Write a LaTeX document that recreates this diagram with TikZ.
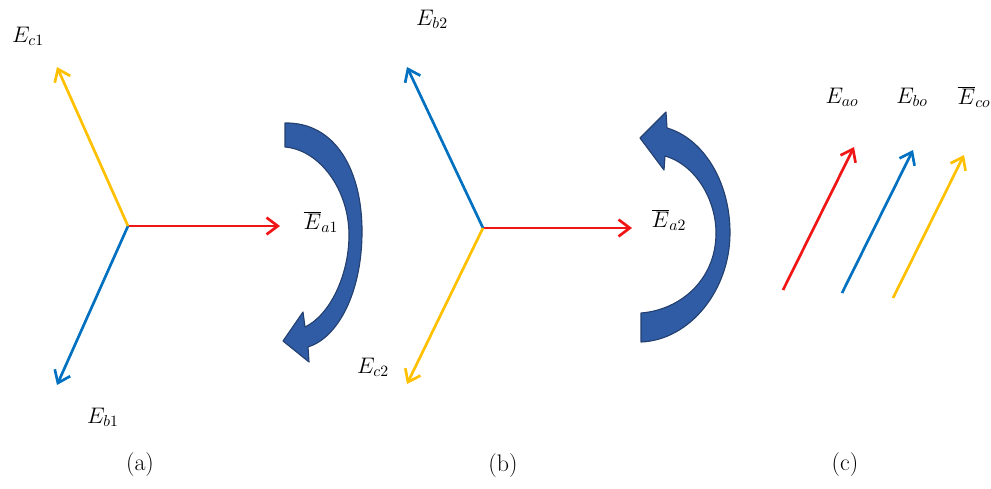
\RequirePackage{fix-cm}
\documentclass[tikz,border=0pt]{standalone}
\usetikzlibrary{arrows.meta}
\definecolor{rossoFase}{RGB}{240,22,22}
\definecolor{bluFase}{RGB}{0,112,192}
\definecolor{gialloFase}{RGB}{255,192,0}
\definecolor{bluRot}{RGB}{47,92,165}
\definecolor{bluRotBordo}{RGB}{36,64,112}

\begin{document}
\begin{tikzpicture}[x=0.025cm,y=-0.025cm,
  fasore/.style={line width=1.9pt,-{Straight Barb[length=8pt,width=12pt]}},
  etichetta/.style={font=\fontsize{16}{19}\selectfont,inner sep=1pt},
  didascalia/.style={font=\fontsize{17}{20}\selectfont},
  rotazione/.style={fill=bluRot,draw=bluRotBordo,line width=0.8pt,line join=round}]
  \useasboundingbox (0,0) rectangle (991,488);
  % (a) terna diretta: origine e punte dei fasori.
  \coordinate (oa) at (128,226);
  \coordinate (pa1) at (280,226);
  \coordinate (pb1) at (57,385);
  \coordinate (pc1) at (57,67);
  \draw[fasore,rossoFase] (oa) -- (pa1);
  \draw[fasore,bluFase] (oa) -- (pb1);
  \draw[fasore,gialloFase] (oa) -- (pc1);
  \node[etichetta] (ec1) at (28,36) {$E_{c1}$};
  \node[etichetta] (eb1) at (103,417) {$E_{b1}$};
  \node[etichetta] (ea1) at (321,222) {$\overline{E}_{a1}$};
  \node[didascalia] (capa) at (140,465) {(a)};
  % Freccia di rotazione oraria, coda larga in alto.
  \path[rotazione] (285,123) .. controls (335,122) and (363,170) .. (362,235)
    .. controls (361,295) and (337,338) .. (308,347)
    -- (309,362) -- (283,341) -- (303,312) -- (305,327)
    .. controls (330,315) and (349,275) .. (349,235)
    .. controls (349,190) and (320,150) .. (285,147) -- cycle;
  % (b) terna inversa, b e c scambiati.
  \coordinate (ob) at (483,228);
  \coordinate (pa2) at (632,228);
  \coordinate (pb2) at (407,67);
  \coordinate (pc2) at (407,384);
  \draw[fasore,rossoFase] (ob) -- (pa2);
  \draw[fasore,bluFase] (ob) -- (pb2);
  \draw[fasore,gialloFase] (ob) -- (pc2);
  \node[etichetta] (eb2) at (432,19) {$E_{b2}$};
  \node[etichetta] (ec2) at (373,367) {$E_{c2}$};
  \node[etichetta] (ea2) at (669,220) {$\overline{E}_{a2}$};
  \node[didascalia] (capb) at (503,466) {(b)};
  % Freccia di rotazione antioraria, coda larga in basso.
  \path[rotazione] (641,342) .. controls (690,340) and (730,290) .. (730,233)
    .. controls (730,180) and (702,138) .. (667,128)
    -- (666,112) -- (640,138) -- (664,170) -- (665,156)
    .. controls (696,165) and (716,200) .. (716,233)
    .. controls (716,280) and (680,310) .. (641,313) -- cycle;
  % (c) terna omopolare: tre fasori paralleli.
  \foreach \nome/\xa/\ya/\colore in {ao/783/290/rossoFase,bo/842/293/bluFase,co/893/298/gialloFase}{
    \coordinate (s\nome) at (\xa,\ya);
    \coordinate (t\nome) at (\xa+71,\ya-143);
    \draw[fasore,\colore] (s\nome) -- (t\nome);
  }
  \node[etichetta] (eao) at (842,97) {$E_{ao}$};
  \node[etichetta] (ebo) at (912,97) {$E_{bo}$};
  \node[etichetta] (eco) at (974,97) {$\overline{E}_{co}$};
  \node[didascalia] (capc) at (845,465) {(c)};
\end{tikzpicture}
\end{document}
